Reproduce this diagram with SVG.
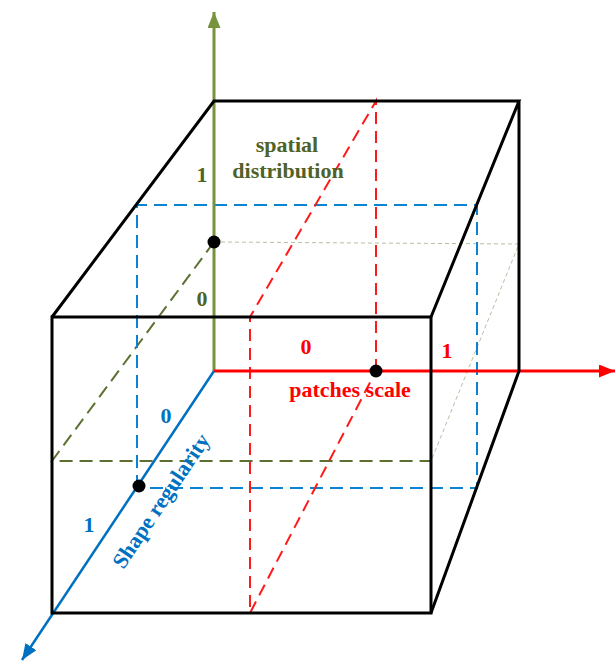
<svg xmlns="http://www.w3.org/2000/svg" width="615" height="666" viewBox="0 0 615 666">
<style>
.box{stroke:#000;stroke-width:3;fill:none;stroke-linejoin:miter}
.bd{stroke:#0a84d2;stroke-width:2;fill:none;stroke-dasharray:13 7}
.rd{stroke:#ff1a1a;stroke-width:2;fill:none;stroke-dasharray:12 7}
.gd{stroke:#5b7032;stroke-width:2;fill:none;stroke-dasharray:13 7}
.gt{stroke:#b3c1a3;stroke-width:1;fill:none;stroke-dasharray:4 3}
.lbl{font-family:"Liberation Serif","Times New Roman",serif;font-weight:bold;font-size:22px}
.g{fill:#4f6228}.r{fill:#ff0000}.b{fill:#0070c0}
</style>
<defs>
<marker id="ag" viewBox="0 0 16 13" refX="16" refY="6.5" markerWidth="16" markerHeight="13" markerUnits="userSpaceOnUse" orient="auto"><path d="M0,0L16,6.5L0,13Z" fill="#77933c"/></marker>
<marker id="ar" viewBox="0 0 16 13" refX="16" refY="6.5" markerWidth="16" markerHeight="13" markerUnits="userSpaceOnUse" orient="auto"><path d="M0,0L16,6.5L0,13Z" fill="#ff0000"/></marker>
<marker id="ab" viewBox="0 0 16 13" refX="16" refY="6.5" markerWidth="16" markerHeight="13" markerUnits="userSpaceOnUse" orient="auto"><path d="M0,0L16,6.5L0,13Z" fill="#0070c0"/></marker>
</defs>
<g id="connectors">
<g id="planes">
<path class="gt" d="M214,242L519,244L431,461"/>
<path class="gd" d="M214,242L52,461L431,461"/>
<path class="bd" d="M137,488V205H477V488H139"/>
<path class="rd" d="M376,371V101L250,317V613L376,371"/>
</g>
<g id="axes">
<line x1="214" y1="371" x2="214" y2="12" stroke="#77933c" stroke-width="3" marker-end="url(#ag)"/>
<line x1="214" y1="371" x2="615" y2="371" stroke="#ff0000" stroke-width="3" marker-end="url(#ar)"/>
<line x1="214" y1="371" x2="22" y2="660" stroke="#0070c0" stroke-width="2.5" marker-end="url(#ab)"/>
</g>
</g>
<g id="box">
<rect class="box" x="52" y="317" width="379" height="296"/>
<path class="box" d="M52,317L214,101H519L431,317M519,101V371L431,613"/>
</g>
<g id="points">
<circle cx="214" cy="242" r="6.5"/>
<circle cx="376" cy="371" r="6.5"/>
<circle cx="139" cy="486" r="6.5"/>
</g>
<g id="labels" class="lbl">
<text class="g" x="287" y="152" text-anchor="middle">spatial</text>
<text class="g" x="288" y="178" text-anchor="middle">distribution</text>
<text class="g" x="202" y="182" text-anchor="middle">1</text>
<text class="g" x="202" y="306" text-anchor="middle">0</text>
<text class="r" x="306" y="354" text-anchor="middle">0</text>
<text class="r" x="447" y="358" text-anchor="middle">1</text>
<text class="r" x="350" y="397" text-anchor="middle">patches scale</text>
<text class="b" x="166" y="423" text-anchor="middle">0</text>
<text class="b" x="89" y="532" text-anchor="middle">1</text>
<text class="b" x="167" y="505" text-anchor="middle" transform="rotate(-56.2 167 505)">Shape regularity</text>
</g>
</svg>
